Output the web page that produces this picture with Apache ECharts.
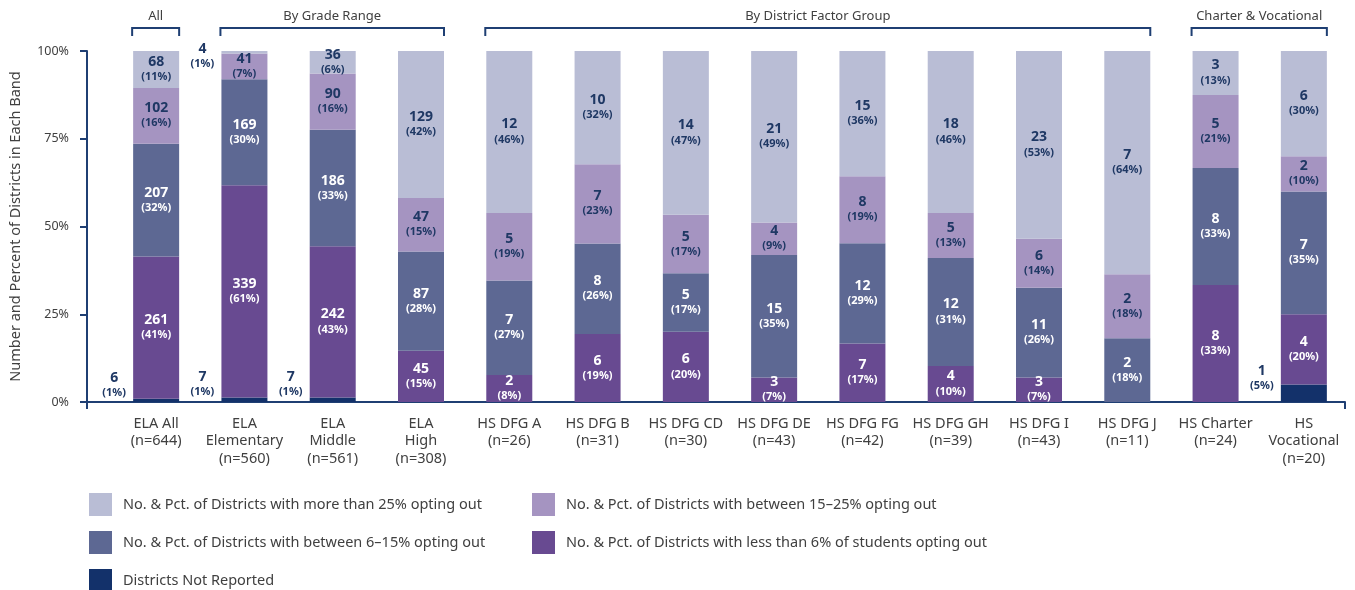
<!DOCTYPE html>
<html>
<head>
<meta charset="utf-8">
<script src="https://cdn.jsdelivr.net/npm/echarts@6/dist/echarts.min.js"></script>
<style>
  html, body { margin: 0; padding: 0; background: #fff; }
  #chart { width: 1355px; height: 590px; }
</style>
</head>
<body>
<div id="chart"></div>
<script>
// ---- Data ----
const categories = ['ELA All', 'ELA\nElementary', 'ELA\nMiddle', 'ELA\nHigh', 'HS DFG A', 'HS DFG B', 'HS DFG CD', 'HS DFG DE', 'HS DFG FG', 'HS DFG GH', 'HS DFG I', 'HS DFG J', 'HS Charter', 'HS\nVocational'];
const nValues = [644, 560, 561, 308, 26, 31, 30, 43, 42, 39, 43, 11, 24, 20];
const notReported   = [6, 7, 7, 0, 0, 0, 0, 0, 0, 0, 0, 0, 0, 1];
const lessThan6     = [261, 339, 242, 45, 2, 6, 6, 3, 7, 4, 3, 0, 8, 4];
const between6to15  = [207, 169, 186, 87, 7, 8, 5, 15, 12, 12, 11, 2, 8, 7];
const between15to25 = [102, 41, 90, 47, 5, 7, 5, 4, 8, 5, 6, 2, 5, 2];
const moreThan25    = [68, 4, 36, 129, 12, 10, 14, 21, 15, 18, 23, 7, 3, 6];
const yTicks = [0, 25, 50, 75, 100];
const groups = [
  { name: 'All', from: 0, to: 0 },
  { name: 'By Grade Range', from: 1, to: 3 },
  { name: 'By District Factor Group', from: 4, to: 11 },
  { name: 'Charter & Vocational', from: 12, to: 13 }
];
const seriesNames = {
  nr: 'Districts Not Reported',
  lt6: 'No. & Pct. of Districts with less than 6% of students opting out',
  b615: 'No. & Pct. of Districts with between 6\u201315% opting out',
  b1525: 'No. & Pct. of Districts with between 15\u201325% opting out',
  gt25: 'No. & Pct. of Districts with more than 25% opting out'
};

// ---- Styling ----
const FONT = 'Noto Sans';
const NAVY = '#1F3F73';
const TEXT = '#404040';
const LABEL_NAVY = '#1F3864';
const BAR_W = 46;

function pctOf(counts, i) { return counts[i] / nValues[i] * 100; }

function makeLabel(counts, color, extra) {
  return Object.assign({
    show: true,
    position: 'inside',
    fontFamily: FONT,
    formatter: function (p) {
      const c = counts[p.dataIndex];
      if (!c) return '';
      return '{v|' + c + '}\n{p|(' + Math.round(pctOf(counts, p.dataIndex)) + '%)}';
    },
    rich: {
      v: { fontFamily: FONT, fontSize: 14, fontWeight: 'bold', color: color, lineHeight: 15, align: 'center' },
      p: { fontFamily: FONT, fontSize: 11, fontWeight: 'bold', color: color, lineHeight: 15, align: 'center' }
    }
  }, extra || {});
}

const outsideLeftLabel = {
  position: [-19, '50%'],
  align: 'center',
  verticalAlign: 'middle',
  offset: [0, -15]
};

function makeSeries(key, counts, color, labelColor, labelOverrides) {
  return {
    name: seriesNames[key],
    type: 'bar',
    stack: 'total',
    xAxisIndex: 1,
    yAxisIndex: 1,
    barWidth: BAR_W,
    itemStyle: { color: color },
    label: makeLabel(counts, labelColor, labelOverrides && labelOverrides.all),
    data: counts.map(function (c, i) {
      const item = { value: pctOf(counts, i) };
      if (labelOverrides && labelOverrides.items && labelOverrides.items[i]) {
        item.label = labelOverrides.items[i];
      }
      return item;
    })
  };
}

const legendBase = {
  orient: 'vertical', itemGap: 15, itemWidth: 23, itemHeight: 23, padding: 0,
  icon: 'rect', selectedMode: false,
  textStyle: { color: TEXT, fontFamily: FONT, fontSize: 14.5, padding: [0, 0, 0, 6] }
};

const chart = echarts.init(document.getElementById('chart'), null, { renderer: 'canvas' });

const option = {
  animation: false,
  textStyle: { fontFamily: FONT },
  grid: [
    { left: 84, right: 10, top: 51, bottom: 188 },
    { left: 112, right: 7, top: 51, bottom: 188 }
  ],
  xAxis: [
    {
      gridIndex: 0, type: 'category', data: [''], boundaryGap: true,
      axisLine: { show: true, lineStyle: { color: NAVY, width: 2 } },
      axisTick: { show: true, length: 7, lineStyle: { color: NAVY, width: 2 } },
      axisLabel: { show: false }
    },
    {
      gridIndex: 1, type: 'category', data: categories.map(function (c, i) { return c + '\n(n=' + nValues[i] + ')'; }),
      axisLine: { show: false }, axisTick: { show: false },
      axisLabel: { color: TEXT, fontFamily: FONT, fontSize: 14.5, lineHeight: 17.5, margin: 13, interval: 0 }
    }
  ],
  yAxis: [
    {
      gridIndex: 0, type: 'value', min: 0, max: 100, interval: 25,
      name: 'Number and Percent of Districts in Each Band',
      nameLocation: 'middle', nameGap: 64,
      nameTextStyle: { color: TEXT, fontFamily: FONT, fontSize: 14.5 },
      axisLine: { show: true, lineStyle: { color: NAVY, width: 2 } },
      axisTick: { show: true, length: 7, lineStyle: { color: NAVY, width: 2 } },
      axisLabel: { color: TEXT, fontFamily: FONT, fontSize: 12.5, margin: 18, formatter: '{value}%' },
      splitLine: { show: false }
    },
    {
      gridIndex: 1, type: 'value', min: 0, max: 100, show: false, splitLine: { show: false }
    }
  ],
  legend: [
    Object.assign({}, legendBase, { left: 89, top: 493, data: [seriesNames.gt25, seriesNames.b615] }),
    Object.assign({}, legendBase, { left: 532, top: 493, data: [seriesNames.b1525, seriesNames.lt6] }),
    Object.assign({}, legendBase, { left: 89, top: 569, data: [seriesNames.nr] })
  ],
  series: [
    makeSeries('nr', notReported, '#13316A', LABEL_NAVY, { all: outsideLeftLabel }),
    makeSeries('lt6', lessThan6, '#684A91', '#FFFFFF'),
    makeSeries('b615', between6to15, '#5D6893', '#FFFFFF'),
    makeSeries('b1525', between15to25, '#A594C1', LABEL_NAVY),
    makeSeries('gt25', moreThan25, '#B9BDD5', LABEL_NAVY, {
      items: { 1: { position: [-19, '50%'], align: 'center', verticalAlign: 'middle', offset: [0, 4] } }
    })
  ]
};

chart.setOption(option);

// Group brackets above the bars, positioned via the category axis scale
const graphics = [];
groups.forEach(function (g) {
  const x1 = chart.convertToPixel({ xAxisIndex: 1 }, g.from) - BAR_W / 2 - 1;
  const x2 = chart.convertToPixel({ xAxisIndex: 1 }, g.to) + BAR_W / 2;
  graphics.push({
    type: 'polyline',
    shape: { points: [[x1, 36], [x1, 28], [x2, 28], [x2, 36]] },
    style: { stroke: NAVY, lineWidth: 2, fill: null }
  });
  graphics.push({
    type: 'text',
    x: (x1 + x2) / 2, y: 16,
    style: { text: g.name, fill: TEXT, font: '13px "' + FONT + '"', textAlign: 'center', textVerticalAlign: 'middle' }
  });
});
chart.setOption({ graphic: graphics });
</script>
</body>
</html>
